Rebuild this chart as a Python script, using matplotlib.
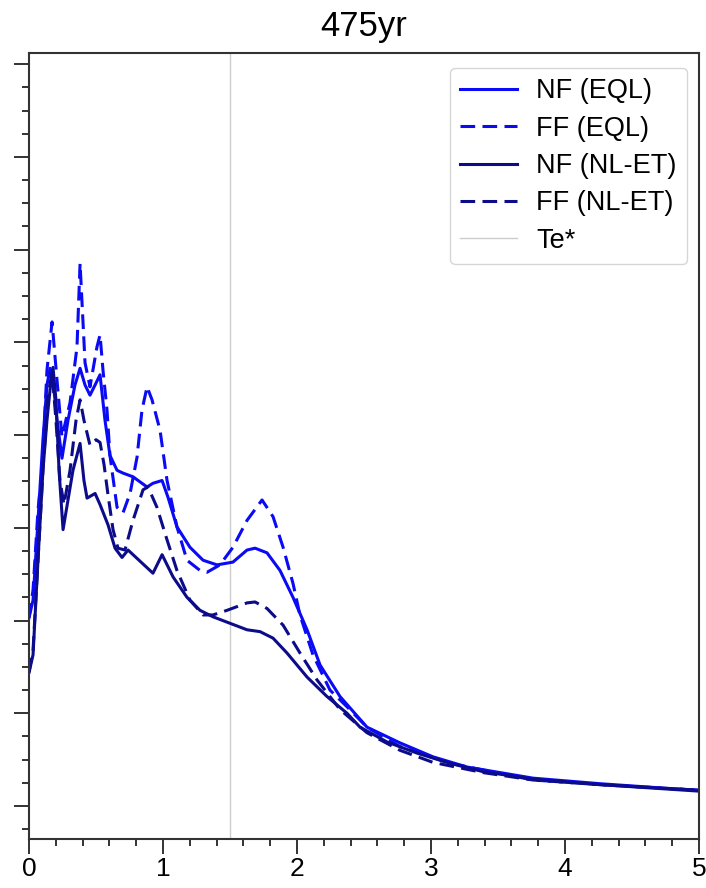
import numpy as np
import matplotlib
matplotlib.use("Agg")
import matplotlib.pyplot as plt
from matplotlib.ticker import AutoMinorLocator, MultipleLocator

plt.rcParams['font.family'] = ['Liberation Sans', 'DejaVu Sans']

# period (s) and spectral ordinate
T_nf_eql = [0, 0.03, 0.067, 0.104, 0.134, 0.157, 0.179, 0.209, 0.246, 0.291, 0.343, 0.381,
            0.418, 0.455, 0.493, 0.530, 0.567, 0.604, 0.657, 0.701, 0.776, 0.881, 0.925,
            0.993, 1.037, 1.104, 1.201, 1.299, 1.403, 1.522, 1.627, 1.687, 1.776, 1.873,
            1.970, 2.075, 2.172, 2.321, 2.522, 2.769, 3.015, 3.269, 3.515, 3.761, 4.261,
            4.761, 5.0]
Sa_nf_eql = [0.203, 0.222, 0.308, 0.395, 0.454, 0.472, 0.459, 0.416, 0.375, 0.416, 0.454,
             0.472, 0.454, 0.443, 0.454, 0.465, 0.416, 0.378, 0.362, 0.359, 0.355, 0.344,
             0.348, 0.351, 0.333, 0.301, 0.279, 0.265, 0.260, 0.263, 0.276, 0.278, 0.273,
             0.254, 0.225, 0.190, 0.152, 0.118, 0.085, 0.068, 0.053, 0.042, 0.036, 0.030,
             0.024, 0.019, 0.017]

T_ff_eql = [0, 0.03, 0.067, 0.097, 0.134, 0.172, 0.209, 0.246, 0.306, 0.358, 0.381, 0.418,
            0.455, 0.507, 0.530, 0.552, 0.582, 0.604, 0.657, 0.701, 0.754, 0.806, 0.843,
            0.881, 0.918, 0.978, 1.03, 1.104, 1.179, 1.276, 1.328, 1.425, 1.522, 1.627,
            1.739, 1.821, 1.896, 1.970, 2.022, 2.119, 2.246, 2.373, 2.522, 2.769, 3.142,
            3.761, 4.261, 5.0]
Sa_ff_eql = [0.203, 0.233, 0.319, 0.362, 0.470, 0.522, 0.459, 0.398, 0.435, 0.495, 0.585,
             0.478, 0.452, 0.495, 0.508, 0.470, 0.427, 0.378, 0.322, 0.316, 0.337, 0.376,
             0.427, 0.452, 0.438, 0.405, 0.351, 0.301, 0.265, 0.254, 0.252, 0.260, 0.279,
             0.308, 0.330, 0.312, 0.279, 0.240, 0.206, 0.163, 0.125, 0.107, 0.085, 0.064,
             0.046, 0.028, 0.023, 0.017]

T_nf_nl = [0, 0.03, 0.067, 0.104, 0.134, 0.157, 0.179, 0.201, 0.224, 0.254, 0.291, 0.328,
           0.381, 0.410, 0.433, 0.493, 0.530, 0.590, 0.642, 0.694, 0.739, 0.806, 0.925,
           0.993, 1.075, 1.179, 1.276, 1.373, 1.5, 1.627, 1.724, 1.821, 1.925, 2.075,
           2.224, 2.373, 2.470, 2.672, 2.896, 3.142, 3.388, 3.761, 4.261, 5.0]
Sa_nf_nl = [0.144, 0.163, 0.265, 0.362, 0.416, 0.449, 0.473, 0.438, 0.362, 0.298, 0.330,
            0.362, 0.391, 0.351, 0.332, 0.337, 0.325, 0.303, 0.278, 0.268, 0.276, 0.267,
            0.251, 0.271, 0.247, 0.225, 0.211, 0.204, 0.197, 0.190, 0.188, 0.181, 0.165,
            0.139, 0.118, 0.100, 0.085, 0.069, 0.057, 0.046, 0.037, 0.029, 0.023, 0.016]

T_ff_nl = [0, 0.03, 0.067, 0.104, 0.142, 0.172, 0.201, 0.231, 0.261, 0.306, 0.351, 0.381,
           0.410, 0.455, 0.5, 0.530, 0.560, 0.590, 0.627, 0.664, 0.716, 0.776, 0.851,
           0.888, 0.955, 1.03, 1.104, 1.201, 1.299, 1.373, 1.478, 1.627, 1.687, 1.776,
           1.896, 2.022, 2.149, 2.321, 2.522, 2.769, 3.015, 3.388, 3.761, 4.261, 5.0]
Sa_ff_nl = [0.144, 0.168, 0.265, 0.362, 0.443, 0.468, 0.416, 0.351, 0.325, 0.362, 0.416,
            0.438, 0.416, 0.389, 0.395, 0.392, 0.368, 0.335, 0.298, 0.278, 0.276, 0.308,
            0.341, 0.344, 0.322, 0.287, 0.254, 0.222, 0.206, 0.206, 0.211, 0.219, 0.220,
            0.213, 0.195, 0.165, 0.136, 0.104, 0.079, 0.060, 0.047, 0.036, 0.028, 0.023,
            0.017]

Te_star = 1.5

blue = '#0a0af5'
navy = '#0c0c8a'
spine_col = '#333333'

fig = plt.figure(figsize=(7.06, 8.88), dpi=100)
ax = fig.add_axes([0.0411, 0.0552, 0.9490, 0.8851])

lw = 2.2
dash = (4.8, 2.4)
ax.plot(T_nf_eql, Sa_nf_eql, color=blue, lw=lw, label='NF (EQL)')
ax.plot(T_ff_eql, Sa_ff_eql, color=blue, lw=lw, dashes=dash, label='FF (EQL)')
ax.plot(T_nf_nl, Sa_nf_nl, color=navy, lw=lw, label='NF (NL-ET)')
ax.plot(T_ff_nl, Sa_ff_nl, color=navy, lw=lw, dashes=dash, label='FF (NL-ET)')
ax.axvline(Te_star, color='#cccccc', lw=1.0, label='Te*', zorder=0)

ax.set_xlim(0, 5)
ax.set_ylim(-0.0356, 0.812)
ax.xaxis.set_major_locator(MultipleLocator(1))
ax.xaxis.set_minor_locator(AutoMinorLocator(5))
ax.yaxis.set_major_locator(MultipleLocator(0.1))
ax.yaxis.set_minor_locator(AutoMinorLocator(4))
ax.set_yticklabels([])

ax.tick_params(which='major', direction='out', length=10.5, width=1.4, color=spine_col,
               labelsize=19, pad=2.5)
ax.tick_params(which='minor', direction='out', length=5, width=1.4, color=spine_col)
for s in ax.spines.values():
    s.set_color(spine_col)
    s.set_linewidth(1.5)

ax.set_title('475yr', fontsize=25, pad=12)

leg = ax.legend(loc='upper right', bbox_to_anchor=(0.982, 0.981), borderaxespad=0,
                fontsize=19.5, handlelength=2.1, handletextpad=0.7, labelspacing=0.42,
                borderpad=0.38, frameon=True)
leg.get_frame().set_edgecolor('#cccccc')

fig.savefig('out.png', dpi=100)
